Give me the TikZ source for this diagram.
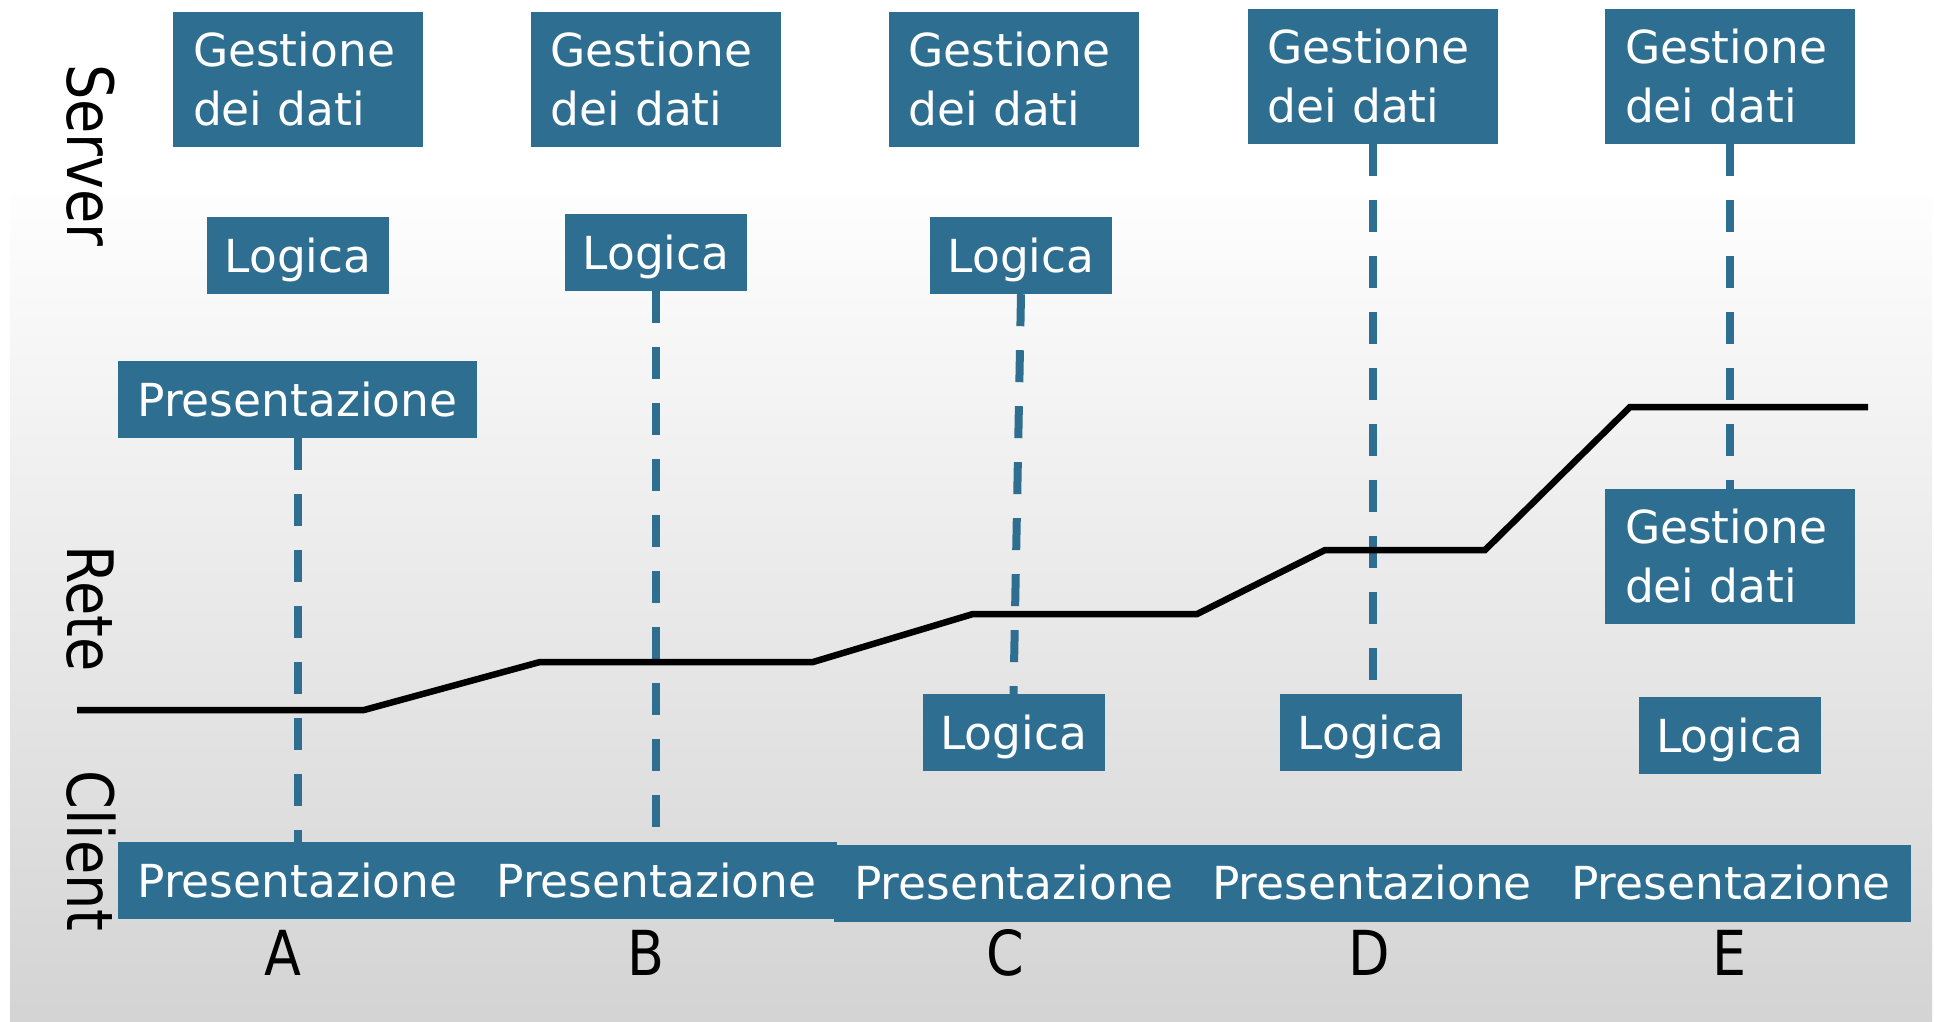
\documentclass[tikz,border=0pt]{standalone}
\usepackage{fontspec}
\setmainfont{DejaVu Sans}
\newfontfamily\narrowfont[FakeStretch=0.87]{DejaVu Sans}
\definecolor{boxblue}{RGB}{45,110,145}
\begin{document}
\begin{tikzpicture}[x=1pt,y=-1pt,
  tier/.style={fill=boxblue, text=white, inner sep=0pt,
    font=\fontsize{45.5pt}{59pt}\selectfont},
  onerow/.style={tier, text height=33.2pt, text depth=0pt, minimum height=77pt},
  logic/.style={onerow, minimum width=182pt},
  pres/.style={onerow, minimum width=360pt},
  tworow/.style={tier, minimum width=250pt, minimum height=135pt,
    text width=210pt, align=left},
  link/.style={draw=boxblue, line width=8pt, dash pattern=on 32pt off 24pt},
  net/.style={line width=6.5pt, line join=miter},
  axis/.style={font=\narrowfont\fontsize{64pt}{64pt}\selectfont,
    inner sep=0pt, rotate=-90, anchor=base west},
  case/.style={font=\narrowfont\fontsize{62pt}{62pt}\selectfont,
    inner sep=0pt, anchor=base}]

% canvas and backdrop
\useasboundingbox (0,0) rectangle (1934,1021);
\fill[white] (0,0) rectangle (1934,1021);
\shade[top color=black!0.5, bottom color=black!17] (10,195) rectangle (1932,1021);

% data management tier
\node[tworow] (gA) at (298,79.5) {Gestione\\dei dati};
\node[tworow] (gB) at (655.5,79.5) {Gestione\\dei dati};
\node[tworow] (gC) at (1013.5,79.5) {Gestione\\dei dati};
\node[tworow] (gD) at (1372.5,76.5) {Gestione\\dei dati};
\node[tworow] (gE) at (1730,76.5) {Gestione\\dei dati};
\node[tworow] (gE2) at (1730,556.5) {Gestione\\dei dati};

% logic tier
\node[logic] (lA) at (298,255.5) {Logica};
\node[logic] (lB) at (656,252.5) {Logica};
\node[logic] (lC) at (1021,255.5) {Logica};
\node[logic] (lC2) at (1013.5,732.5) {Logica};
\node[logic] (lD2) at (1371,732.5) {Logica};
\node[logic] (lE2) at (1729.5,735.5) {Logica};

% presentation tier
\node[pres, minimum width=359pt] (pA) at (297.5,399.5) {Presentazione};
\node[pres] (ppA) at (297.5,880.5) {Presentazione};
\node[pres] (ppB) at (656.5,880.5) {Presentazione};
\node[pres] (ppC) at (1014,883) {Presentazione};
\node[pres] (ppD) at (1372,883) {Presentazione};
\node[pres] (ppE) at (1731,883) {Presentazione};

% split points between the tiers
\coordinate (bEnd) at (656,827);
\coordinate (dEnd) at (1372.5,680);
\draw[link] (pA.south) -- (ppA.north);
\draw[link] (lB.south) -- (bEnd);
\draw[link] (lC.south) -- (lC2.north);
\draw[link] (gD.south) -- (dEnd);
\draw[link] (gE.south) -- (gE2.north);

% network boundary
\coordinate (n0) at (77,710);
\coordinate (n1) at (364,710);
\coordinate (n2) at (540,662);
\coordinate (n3) at (813,662);
\coordinate (n4) at (973,614);
\coordinate (n5) at (1197,614);
\coordinate (n6) at (1325,550);
\coordinate (n7) at (1485,550);
\coordinate (n8) at (1630,407);
\coordinate (n9) at (1868,407);
\draw[net] (n0) -- (n1) -- (n2) -- (n3) -- (n4) -- (n5) -- (n6) -- (n7) -- (n8) -- (n9);

% side captions
\node[axis] (tServer) at (67,64) {Server};
\node[axis] (tRete) at (67,545) {Rete};
\node[axis] (tClient) at (67,770) {Client};

% configuration letters
\node[case] (cA) at (283,975) {A};
\node[case] (cB) at (646,975) {B};
\node[case] (cC) at (1005.5,975) {C};
\node[case] (cD) at (1369,975) {D};
\node[case] (cE) at (1730,975) {E};
\end{tikzpicture}
\end{document}
